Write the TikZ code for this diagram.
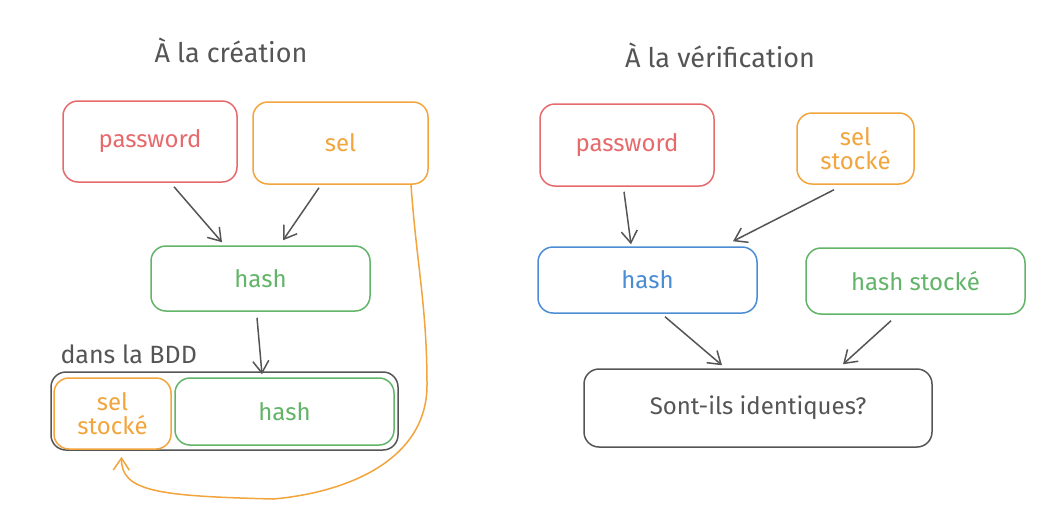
\documentclass[tikz,border=0pt]{standalone}
\usepackage{fontspec}
\setmainfont{Fira Sans}
\usetikzlibrary{arrows.meta,calc}
\definecolor{cred}{HTML}{E66A6C}
\definecolor{corange}{HTML}{F2A53C}
\definecolor{cgreen}{HTML}{62B468}
\definecolor{cblue}{HTML}{4A8DD4}
\definecolor{cgray}{HTML}{555555}
\tikzset{
  box/.style={draw, rounded corners=15pt, line width=1.5pt, inner sep=0pt, align=center, font=\fontsize{24}{27}\selectfont},
  redbox/.style={box, draw=cred, text=cred},
  orangebox/.style={box, draw=corange, text=corange},
  greenbox/.style={box, draw=cgreen, text=cgreen},
  bluebox/.style={box, draw=cblue, text=cblue},
  graybox/.style={box, draw=cgray, text=cgray},
  title/.style={text=cgray, font=\fontsize{27}{32}\selectfont},
  conn/.style={draw=cgray, line width=1.5pt, -{Straight Barb[length=12pt,width=16pt,line width=1.5pt]}},
}
\begin{document}
\begin{tikzpicture}[x=1pt,y=-1pt]
\useasboundingbox[fill=white] (0,0) rectangle (1064,523);
% titles
\node[title] (t1) at (231,50) {À la création};
\node[title] (t2) at (720,55) {À la vérification};
% left side
\node[redbox, minimum width=174pt, minimum height=81pt] (pw1) at (150,141.5) {password};
\node[orangebox, minimum width=175pt, minimum height=82pt] (sel1) at (340.5,143) {sel};
\node[greenbox, minimum width=219pt, minimum height=65pt] (hash1) at (260.5,278.5) {hash};
\node[graybox, minimum width=347pt, minimum height=78pt] (bdd) at (224.5,411) {};
\node[orangebox, minimum width=117pt, minimum height=71pt] (sst1) at (112.5,413.5) {sel\\[-3pt]stocké};
\node[greenbox, minimum width=219pt, minimum height=67pt] (hash2) at (284.5,411.5) {hash};
\node[title, anchor=west, font=\fontsize{25}{30}\selectfont] (lbl) at (57,354) {dans la BDD};
% right side
\node[redbox, minimum width=174pt, minimum height=82pt] (pw2) at (627,145) {password};
\node[orangebox, minimum width=117pt, minimum height=71pt] (sst2) at (855.5,148.5) {sel\\[-3pt]stocké};
\node[bluebox, minimum width=219pt, minimum height=66pt] (hash3) at (647.5,280) {hash};
\node[greenbox, minimum width=219pt, minimum height=66pt] (hstk) at (915.5,281) {hash stocké};
\node[graybox, minimum width=348pt, minimum height=78pt] (same) at (758,408) {Sont-ils identiques?};
% connectors left
\draw[conn] ($(pw1.south)+(24,4)$) -- ($(hash1.north)+(-38.5,-3)$);
\draw[conn] ($(sel1.south)+(-21.5,3)$) -- ($(hash1.north)+(22.5,-5)$);
\draw[conn] ($(hash1.south)+(-3.5,6)$) -- ($(hash2.north)+(-22.5,-3)$);
\draw[draw=corange, line width=1.5pt, -{Straight Barb[length=12pt,width=16pt,line width=1.5pt]}]
  ($(sel1.south)+(70.5,0)$) to[out=-86,in=90] (427,385) to[out=-90,in=5] (273,499)
  .. controls (160,496) and (121,492) .. ($(sst1.south)+(9,7)$);
% connectors right
\draw[conn] ($(pw2.south)+(-3,5)$) -- ($(hash3.north)+(-16.5,-2)$);
\draw[conn] ($(sst2.south)+(-21.5,5)$) -- ($(hash3.north)+(85.5,-5)$);
\draw[conn] ($(hash3.south)+(17.5,3)$) -- ($(same.north)+(-36,-3)$);
\draw[conn] ($(hstk.south)+(-24.5,6)$) -- ($(same.north)+(85,-4)$);
\end{tikzpicture}
\end{document}
